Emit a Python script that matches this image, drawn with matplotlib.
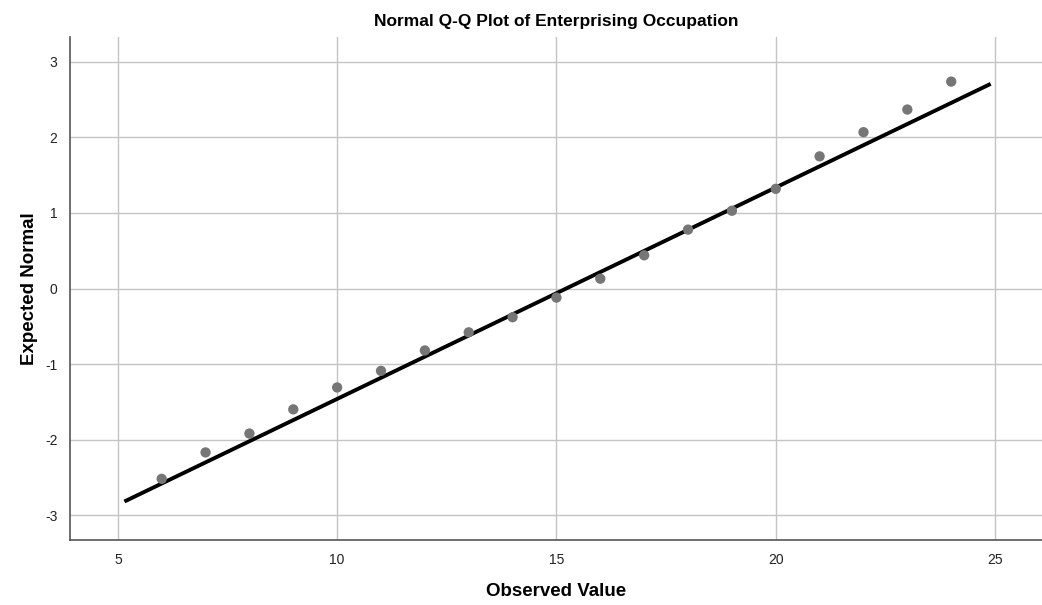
import numpy as np
import matplotlib.pyplot as plt

plt.rcParams['font.family'] = ['Liberation Sans', 'DejaVu Sans']
plt.rcParams['axes.unicode_minus'] = False

# observed values and their expected normal scores
observed = [6, 7, 8, 9, 10, 11, 12, 13, 14, 15, 16, 17, 18, 19, 20, 21, 22, 23, 24]
expected = [-2.52, -2.17, -1.92, -1.60, -1.31, -1.09, -0.82, -0.58, -0.38, -0.12,
            0.13, 0.44, 0.78, 1.03, 1.32, 1.75, 2.07, 2.37, 2.74]

# reference line endpoints
line_x = [5.15, 24.9]
line_y = [-2.82, 2.71]

xticks = [5, 10, 15, 20, 25]
yticks = [-3, -2, -1, 0, 1, 2, 3]

fig = plt.figure(figsize=(10.42, 6.05), dpi=100)
ax = fig.add_axes([0.0672, 0.1074, 0.9328, 0.8314])

ax.set_xlim(3.91, 26.07)
ax.set_ylim(-3.33, 3.33)
ax.set_xticks(xticks)
ax.set_yticks(yticks)
ax.grid(True, color='#c4c4c4', linewidth=1.0)
ax.set_axisbelow(True)

ax.plot(line_x, line_y, color='black', linewidth=2.8, solid_capstyle='butt', zorder=2)
ax.scatter(observed, expected, s=55, color='#767676', edgecolors='none', zorder=3)

for side in ['top', 'right']:
    ax.spines[side].set_visible(False)
for side in ['left', 'bottom']:
    ax.spines[side].set_color('#555555')
    ax.spines[side].set_linewidth(1.2)

ax.tick_params(length=0, labelsize=10, colors='#222222')
ax.tick_params(axis='x', pad=9)
ax.tick_params(axis='y', pad=9)

ax.set_title('Normal Q-Q Plot of Enterprising Occupation', fontsize=12.5,
             fontweight='bold', pad=8)
ax.set_xlabel('Observed Value', fontsize=13.5, fontweight='bold', labelpad=12)
ax.set_ylabel('Expected Normal', fontsize=13.5, fontweight='bold', labelpad=5)

fig.savefig('out.png', dpi=100)
